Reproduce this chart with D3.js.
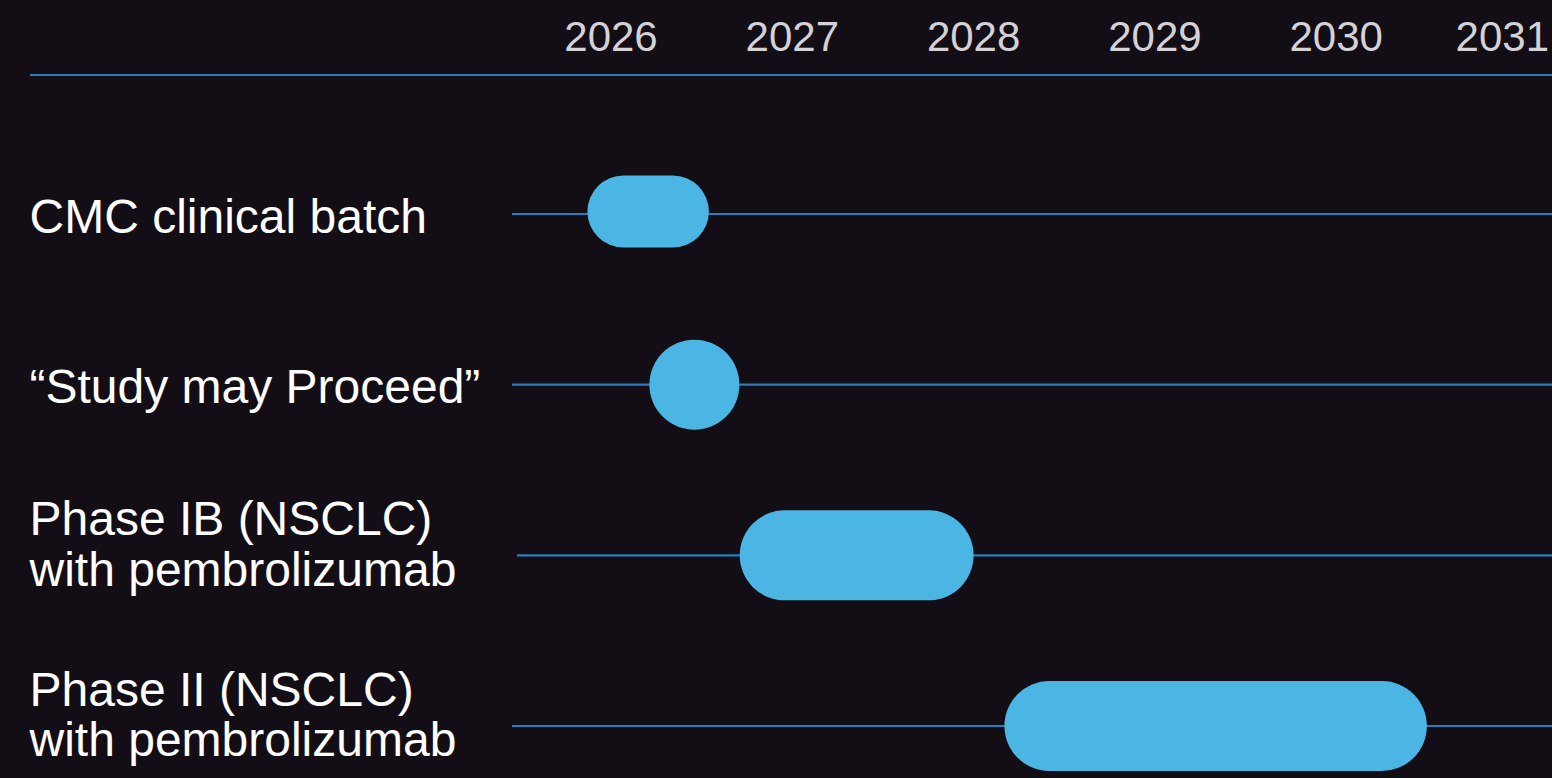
<!DOCTYPE html>
<html>
<head>
<meta charset="utf-8">
<script src="https://cdn.jsdelivr.net/npm/d3@7/dist/d3.min.js"></script>
<style>
  html, body { margin: 0; padding: 0; background: #130e15; overflow: hidden; }
  svg { display: block; }
</style>
</head>
<body>
<svg id="chart"></svg>
<script>
// ---- Data ----
const categories = [
  ["CMC clinical batch"],
  ["\u201CStudy may Proceed\u201D"],
  ["Phase IB (NSCLC)", "with pembrolizumab"],
  ["Phase II (NSCLC)", "with pembrolizumab"]
];
const startYears = [2025.87, 2026.46, 2026.71, 2028.17];
const endYears   = [2026.54, 2026.46, 2028.00, 2030.50];
const tickYears  = [2026, 2027, 2028, 2029, 2030, 2031];
const tickLabels = ["2026", "2027", "2028", "2029", "2030", "2031"];

// ---- Layout ----
const W = 1552, H = 778;
const svg = d3.select("#chart").attr("width", W).attr("height", H);
svg.append("rect").attr("width", W).attr("height", H).attr("fill", "#130e15");

const x = d3.scaleLinear().domain([2026, 2031]).range([611, 1517.5]);
const y = d3.scalePoint().domain(d3.range(categories.length)).range([214, 726]);

const lineColor = "#2c7bbd";
const barColor = "#4bb5e3";
const font = "'Liberation Sans', Arial, Helvetica, sans-serif";

// top axis line
svg.append("line")
  .attr("x1", 30).attr("x2", W)
  .attr("y1", 75).attr("y2", 75)
  .attr("stroke", lineColor).attr("stroke-width", 2.2);

// tick labels
const tg = svg.append("g");
tickYears.forEach((t, i) => {
  const txt = tg.append("text")
    .attr("x", x(t)).attr("y", 51)
    .attr("text-anchor", "middle")
    .attr("font-family", font)
    .attr("font-size", 42)
    .attr("fill", "#d4d2d6")
    .text(tickLabels[i]);
  const bb = txt.node().getBBox();
  if (bb.x + bb.width > W - 3) {
    txt.attr("text-anchor", "end").attr("x", W - 3);
  }
});

// row lines
const lineStart = [512, 512, 517, 512];
svg.append("g").selectAll("line")
  .data(categories)
  .join("line")
  .attr("x1", (d, i) => lineStart[i])
  .attr("x2", W)
  .attr("y1", (d, i) => y(i))
  .attr("y2", (d, i) => y(i))
  .attr("stroke", lineColor)
  .attr("stroke-width", 2.2);

// bars (pills / circles)
const barH = i => (i === 0 ? 72 : 90);
const barOff = i => (i === 0 ? -2.5 : 0);
svg.append("g").selectAll("rect")
  .data(categories)
  .join("rect")
  .each(function(d, i) {
    const h = barH(i);
    let x0 = x(startYears[i]), x1 = x(endYears[i]);
    if (x1 - x0 < h) { const c = (x0 + x1) / 2; x0 = c - h / 2; x1 = c + h / 2; }
    d3.select(this)
      .attr("x", x0)
      .attr("width", x1 - x0)
      .attr("y", y(i) + barOff(i) - h / 2)
      .attr("height", h)
      .attr("rx", h / 2).attr("ry", h / 2)
      .attr("fill", barColor);
  });

// row labels
const lg = svg.append("g");
categories.forEach((lines, i) => {
  const t = lg.append("text")
    .attr("font-family", font)
    .attr("font-size", 48)
    .attr("fill", "#ffffff");
  if (lines.length === 1) {
    t.append("tspan").attr("x", 29.5).attr("y", y(i) + 18.5).text(lines[0]);
  } else {
    t.append("tspan").attr("x", 29.5).attr("y", y(i) - 20).text(lines[0]);
    t.append("tspan").attr("x", 29.5).attr("y", y(i) + 30.3).text(lines[1]);
  }
});
</script>
</body>
</html>
